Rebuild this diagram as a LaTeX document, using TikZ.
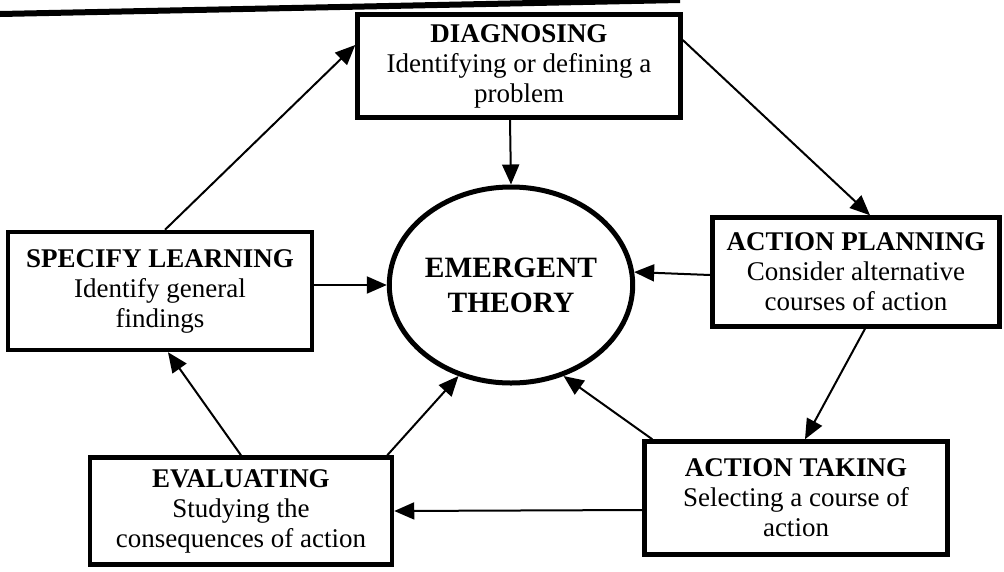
\documentclass[tikz,border=0pt]{standalone}
\usepackage{fontspec}
\setmainfont{Liberation Serif}
\usetikzlibrary{arrows.meta,shapes.geometric}

\tikzset{
  stage/.style={draw, line width=4.5pt, fill=white, align=center, inner sep=0pt,
    font=\fontsize{27}{30}\selectfont},
  hub/.style={draw, ellipse, line width=5pt, align=center, inner sep=0pt,
    minimum width=224pt, minimum height=196pt,
    font=\fontsize{29.5}{35}\selectfont\bfseries},
  flow/.style={line width=2pt, -{Triangle[length=20pt,width=17pt]}},
  rule/.style={line width=6pt}
}

\begin{document}
\begin{tikzpicture}[x=1pt, y=-1pt]
  \useasboundingbox (0,0) rectangle (1004,571);

  % page rule across the top
  \draw[rule] (0,14) -- (680,0);

  % central concept
  \node[hub] (theory) at (511,285) {EMERGENT\\THEORY};

  % the five stages of the cycle
  \node[stage, minimum width=323pt, minimum height=103pt] (diag) at (519,66)
    {\textbf{DIAGNOSING}\\Identifying or defining a\\problem};
  \node[stage, minimum width=304pt, minimum height=118pt] (spec) at (160,291)
    {\textbf{SPECIFY LEARNING}\\Identify general\\findings};
  \node[stage, minimum width=287pt, minimum height=109pt] (plan) at (856,272)
    {\textbf{ACTION PLANNING}\\Consider alternative\\courses of action};
  \node[stage, minimum width=302pt, minimum height=107pt] (eval) at (241,511)
    {\textbf{EVALUATING}\\Studying the\\consequences of action};
  \node[stage, minimum width=303pt, minimum height=113pt] (take) at (796,498)
    {\textbf{ACTION TAKING}\\Selecting a course of\\action};

  % cycle around the outside
  \draw[flow] ([yshift=26pt]diag.east) -- ([xshift=14pt]plan.north);
  \draw[flow] ([xshift=9pt]plan.south) -- ([xshift=9pt]take.north);
  \draw[flow] ([yshift=-12pt]take.west) -- (eval.east);
  \draw[flow] (eval.north) -- ([xshift=8pt]spec.south);
  \draw[flow] ([xshift=5pt]spec.north) -- ([yshift=21pt]diag.west);

  % every stage feeds the emergent theory
  \draw[flow] ([xshift=-9pt]diag.south) -- (theory.north);
  \draw[flow] ([yshift=6pt]spec.east) -- (theory.west);
  \draw[flow] ([yshift=-3pt]plan.west) -- (theory.6);
  \draw[flow] ([xshift=-7pt]eval.north east) -- (theory.240);
  \draw[flow] ([xshift=10pt]take.north west) -- (theory.300);
\end{tikzpicture}
\end{document}
